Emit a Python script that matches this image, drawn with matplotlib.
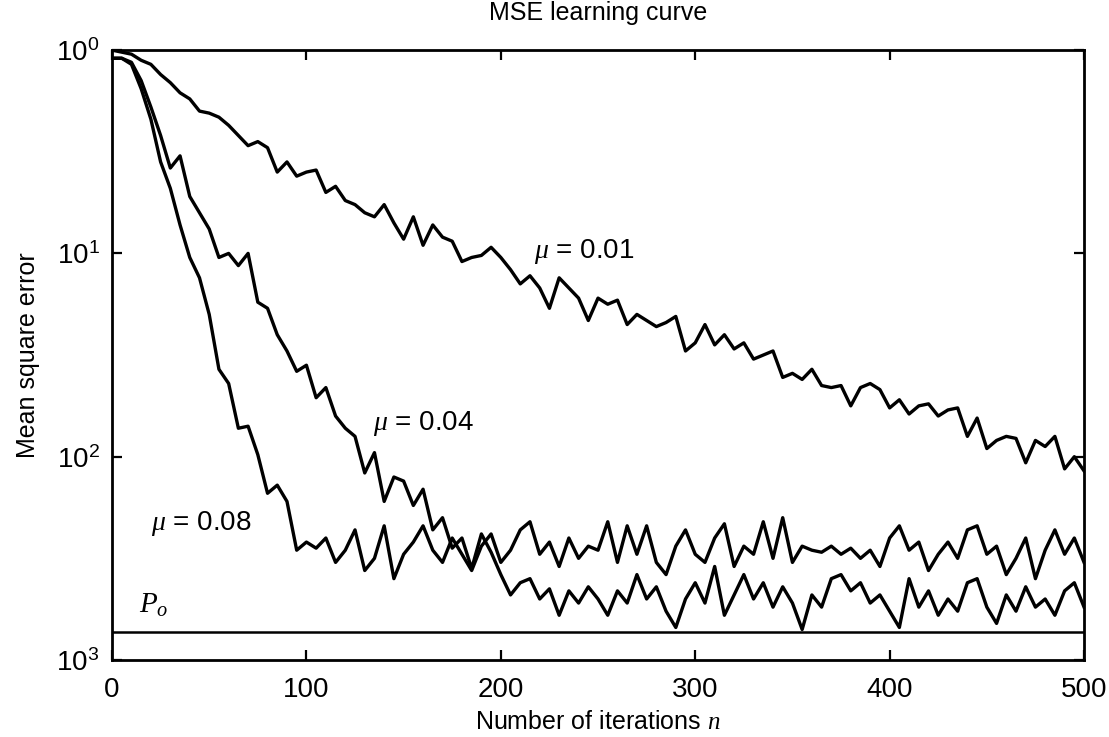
import numpy as np
import matplotlib.pyplot as plt

# iteration index, sampled every 5 iterations
iterations = list(range(0, 501, 5))

# decades below 10^0 (y = 10 ** -value)
decades_mu001 = [0.00, 0.01, 0.02, 0.05, 0.07, 0.12, 0.16, 0.21, 0.24, 0.30,
                 0.31, 0.33, 0.37, 0.42, 0.47, 0.45, 0.48, 0.60, 0.55, 0.62,
                 0.60, 0.59, 0.70, 0.67, 0.74, 0.76, 0.80, 0.82, 0.76, 0.85,
                 0.93, 0.82, 0.96, 0.86, 0.92, 0.94, 1.04, 1.02, 1.01, 0.97,
                 1.02, 1.08, 1.15, 1.11, 1.17, 1.27, 1.12, 1.17, 1.22, 1.33,
                 1.22, 1.25, 1.23, 1.35, 1.30, 1.33, 1.36, 1.34, 1.31, 1.48,
                 1.44, 1.35, 1.45, 1.40, 1.47, 1.44, 1.52, 1.50, 1.48, 1.61,
                 1.59, 1.62, 1.57, 1.65, 1.66, 1.65, 1.75, 1.66, 1.64, 1.67,
                 1.76, 1.72, 1.79, 1.75, 1.74, 1.80, 1.77, 1.76, 1.90, 1.81,
                 1.96, 1.92, 1.90, 1.91, 2.03, 1.92, 1.95, 1.90, 2.06, 2.00,
                 2.07]

decades_mu004 = [0.04, 0.04, 0.06, 0.15, 0.28, 0.42, 0.58, 0.52, 0.72, 0.80,
                 0.88, 1.02, 1.00, 1.06, 1.00, 1.24, 1.27, 1.40, 1.48, 1.58,
                 1.55, 1.71, 1.66, 1.80, 1.86, 1.90, 2.08, 1.98, 2.22, 2.10,
                 2.12, 2.24, 2.16, 2.36, 2.30, 2.45, 2.40, 2.55, 2.38, 2.47,
                 2.58, 2.68, 2.62, 2.60, 2.70, 2.65, 2.78, 2.66, 2.72, 2.64,
                 2.70, 2.78, 2.66, 2.72, 2.58, 2.70, 2.64, 2.76, 2.84, 2.70,
                 2.62, 2.72, 2.54, 2.78, 2.68, 2.58, 2.70, 2.62, 2.74, 2.64,
                 2.72, 2.85, 2.68, 2.74, 2.60, 2.58, 2.66, 2.62, 2.72, 2.68,
                 2.76, 2.84, 2.60, 2.74, 2.66, 2.78, 2.70, 2.76, 2.62, 2.60,
                 2.74, 2.82, 2.68, 2.76, 2.64, 2.74, 2.70, 2.78, 2.66, 2.62,
                 2.74]

decades_mu008 = [0.04, 0.04, 0.07, 0.19, 0.34, 0.55, 0.68, 0.86, 1.02, 1.12,
                 1.30, 1.57, 1.64, 1.86, 1.85, 1.99, 2.18, 2.14, 2.22, 2.46,
                 2.42, 2.45, 2.40, 2.52, 2.46, 2.36, 2.56, 2.50, 2.34, 2.60,
                 2.48, 2.42, 2.34, 2.46, 2.52, 2.40, 2.48, 2.56, 2.44, 2.38,
                 2.52, 2.46, 2.36, 2.32, 2.48, 2.42, 2.54, 2.40, 2.50, 2.44,
                 2.46, 2.32, 2.52, 2.34, 2.48, 2.34, 2.52, 2.58, 2.44, 2.36,
                 2.48, 2.52, 2.40, 2.33, 2.54, 2.44, 2.48, 2.32, 2.50, 2.30,
                 2.52, 2.44, 2.46, 2.47, 2.44, 2.48, 2.45, 2.50, 2.46, 2.54,
                 2.40, 2.34, 2.46, 2.42, 2.56, 2.48, 2.42, 2.50, 2.36, 2.34,
                 2.48, 2.44, 2.58, 2.50, 2.40, 2.60, 2.46, 2.36, 2.48, 2.40,
                 2.52]

po_decades = 2.86

ytick_vals = [1, 0.1, 0.01, 0.001]
ytick_labels = [r'$\mathregular{10^0}$', r'$\mathregular{10^1}$',
                r'$\mathregular{10^2}$', r'$\mathregular{10^3}$']
xtick_vals = [0, 100, 200, 300, 400, 500]

plt.rcParams['font.family'] = ['Liberation Sans', 'DejaVu Sans']
plt.rcParams['mathtext.fontset'] = 'custom'
plt.rcParams['mathtext.rm'] = 'Liberation Sans'
plt.rcParams['mathtext.it'] = 'Liberation Serif:italic'

fig = plt.figure(figsize=(11.09, 7.37), dpi=100)
ax = fig.add_axes([0.101, 0.1045, 0.8765, 0.8275])

for d in [decades_mu001, decades_mu004, decades_mu008]:
    ax.plot(iterations, 10 ** -np.array(d), color='black', lw=2.4)

ax.axhline(10 ** -po_decades, color='black', lw=1.8)

ax.set_yscale('log')
ax.set_xlim(0, 500)
ax.set_ylim(1e-3, 1)
ax.set_yticks(ytick_vals)
ax.set_yticklabels(ytick_labels)
ax.minorticks_off()
ax.set_xticks(xtick_vals)
ax.tick_params(direction='in', length=7, width=1.6, top=True, right=True,
               labelsize=20)
ax.tick_params(axis='x', pad=12)
ax.tick_params(axis='y', pad=9)
for s in ax.spines.values():
    s.set_linewidth(2.0)

ax.set_title('MSE learning curve', fontsize=18, pad=22)
ax.set_xlabel(r'Number of iterations $n$', fontsize=18, labelpad=5)
ax.set_ylabel('Mean square error', fontsize=18, labelpad=12)

ax.text(217, 10 ** -0.99, r'$\mu$ = 0.01', fontsize=20, va='center')
ax.text(134, 10 ** -1.835, r'$\mu$ = 0.04', fontsize=20, va='center')
ax.text(20, 10 ** -2.33, r'$\mu$ = 0.08', fontsize=20, va='center')
ax.text(14, 10 ** -2.73, r'$P_o$', fontsize=21, va='center')

plt.savefig('out.png', dpi=100)
